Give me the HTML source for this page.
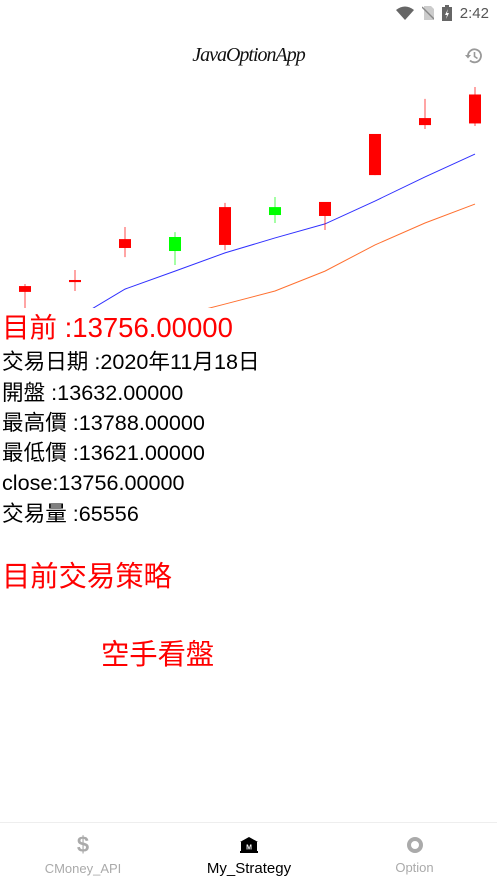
<!DOCTYPE html>
<html><head><meta charset="utf-8"><style>
*{margin:0;padding:0;box-sizing:border-box}
body{width:497px;height:882px;background:#fff;position:relative;overflow:hidden;font-family:"Liberation Sans","Noto Sans CJK TC",sans-serif}
.t{position:absolute;left:2px;white-space:nowrap;color:#000;font-size:21.6px;line-height:24px}
.red{color:#f00}
</style></head><body>
<div style="position:absolute;right:8px;top:2px;height:22px;display:flex;align-items:center;gap:8px;color:#555;font-size:15px">
<svg width="18" height="14" viewBox="0 0 18 14"><path d="M0 4Q9 -3 18 4L9 14Z" fill="#666"/></svg>
<svg width="12" height="14" viewBox="0 0 12 14"><path d="M2 0H9L12 3V14H2Z" fill="#ccc"/><path d="M0 1L12 13" stroke="#888" stroke-width="1.4"/></svg>
<svg width="10" height="16" viewBox="0 0 10 16"><rect x="0" y="2" width="10" height="14" fill="#666"/><rect x="3" y="0" width="4" height="2" fill="#666"/><path d="M6 4L3 10H5L4 14L7 8H5Z" fill="#fff"/></svg>
<span>2:42</span></div>
<div style="position:absolute;left:0;width:497px;top:44px;text-align:center;font-family:'Liberation Serif',serif;font-style:italic;font-size:20px;color:#111;letter-spacing:-1px">JavaOptionApp</div>
<svg style="position:absolute;left:464px;top:46px" width="20" height="20" viewBox="0 0 20 20"><path d="M4 10A6.5 6.5 0 1 1 6 14.5" fill="none" stroke="#999" stroke-width="1.8"/><path d="M1 9L4 12.5L7 9Z" fill="#999"/><path d="M10.5 6V10.5L13.5 12.5" fill="none" stroke="#999" stroke-width="1.6"/></svg>

<svg id="chart" style="position:absolute;left:0;top:80px" width="497" height="230">
<defs><clipPath id="cp"><rect x="0" y="0" width="497" height="228"/></clipPath></defs>
<g id="plot" clip-path="url(#cp)"></g></svg>
<script>
const opens=[12911,12953,13099,13146,13112,13274,13236,13411,13625,13632];
const closes=[12936,12962,13137,13086,13274,13240,13296,13587,13655,13756];
const highs=[12945,13005,13189,13167,13292,13317,13296,13587,13737,13788];
const lows=[12842,12915,13060,13026,13090,13206,13176,13411,13608,13621];
const maShort=[null,12795,12923,13000,13078,13142,13202,13300,13403,13501];
const maLong=[null,null,null,12804,12859,12915,13000,13112,13206,13287];
const xS=i=>25+i*50;
const yS=v=>7+(13788-v)/4.28;
const NS='http://www.w3.org/2000/svg';
const g=document.getElementById('plot');
function line(arr,color,name){let d='';arr.forEach((v,i)=>{if(v==null)return;d+=(d?'L':'M')+xS(i)+' '+yS(v)});const p=document.createElementNS(NS,'path');p.setAttribute('d',d);p.setAttribute('fill','none');p.setAttribute('stroke',color);p.setAttribute('stroke-width','1');


g.appendChild(p);}
line(maShort,'#3030ff','ma-short-line');
line(maLong,'#ff7030','ma-long-line');
opens.forEach((o,i)=>{const c=closes[i];const col=c>=o?'#ff0000':'#00ff00';
const w=document.createElementNS(NS,'line');w.setAttribute('x1',xS(i));w.setAttribute('x2',xS(i));w.setAttribute('y1',yS(highs[i]));w.setAttribute('y2',yS(lows[i]));w.setAttribute('stroke',col);w.setAttribute('stroke-width','1');w.setAttribute('opacity','0.7');


g.appendChild(w);
const r=document.createElementNS(NS,'rect');const t=Math.min(yS(o),yS(c));r.setAttribute('x',xS(i)-6);r.setAttribute('width',12);r.setAttribute('y',t);r.setAttribute('height',Math.max(2,Math.abs(yS(o)-yS(c))));r.setAttribute('fill',col);


g.appendChild(r);});
</script>

<div class="t red" style="top:313px;font-size:27.5px;line-height:30px">目前 :13756.00000</div>
<div class="t" style="top:350px">交易日期 :2020年11月18日</div>
<div class="t" style="top:381px">開盤 :13632.00000</div>
<div class="t" style="top:411px">最高價 :13788.00000</div>
<div class="t" style="top:441px">最低價 :13621.00000</div>
<div class="t" style="top:471px">close:13756.00000</div>
<div class="t" style="top:502px">交易量 :65556</div>
<div class="t red" style="top:560px;font-size:28.3px;line-height:32px">目前交易策略</div>
<div class="t red" style="left:101px;top:638px;font-size:28.3px;line-height:32px">空手看盤</div>

<div style="position:absolute;left:0;top:822px;width:497px;height:60px;border-top:1px solid #eee;background:#fff">
<div style="position:absolute;left:0;width:166px;top:0;height:60px;text-align:center;color:#aaa">
<div style="font-size:22px;font-weight:bold;line-height:22px;margin-top:11px">$</div><div style="font-size:13px;margin-top:5px">CMoney_API</div></div>
<div style="position:absolute;left:166px;width:166px;top:0;height:60px;text-align:center;color:#000">
<svg width="18" height="16" viewBox="0 0 18 16" style="margin-top:14px"><path d="M9 0L18 5H0Z" fill="#000"/><rect x="1" y="5" width="16" height="9" fill="#000"/><rect x="0" y="14" width="18" height="2" fill="#000"/><text x="9" y="12.5" font-size="7" fill="#fff" text-anchor="middle" font-weight="bold" font-family="Liberation Sans">M</text></svg>
<div style="font-size:15px;margin-top:2px">My_Strategy</div></div>
<div style="position:absolute;left:332px;width:165px;top:0;height:60px;text-align:center;color:#aaa">
<div style="width:16px;height:16px;border:4px solid #aaa;border-radius:50%;margin:14px auto 0"></div><div style="font-size:13px;margin-top:7px">Option</div></div>
</div>
</body></html>
